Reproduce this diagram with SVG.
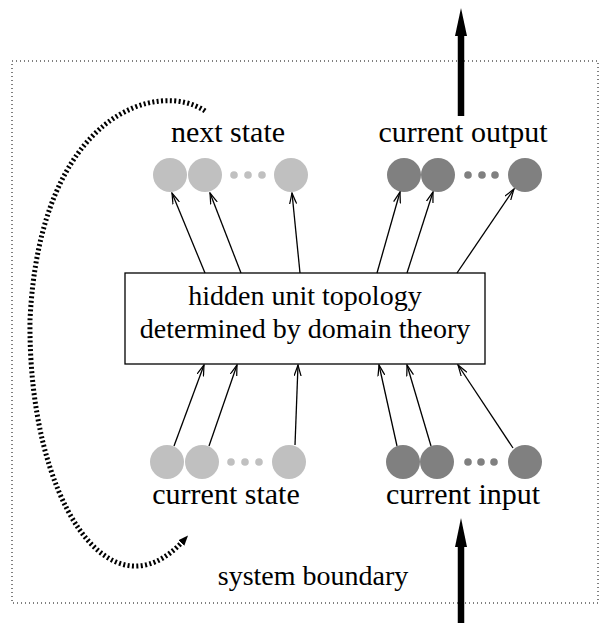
<svg xmlns="http://www.w3.org/2000/svg" width="611" height="623" viewBox="0 0 611 623">
<style>
text{font-family:"Liberation Serif","Times New Roman",serif;font-size:28px;fill:#000;text-anchor:middle}
.lb{font-size:30px}
.lt{fill:#c0c0c0}
.dk{fill:#808080}
.ln{stroke:#000;stroke-width:1.3;fill:none;marker-end:url(#ah)}
</style>
<defs>
<marker id="ah" viewBox="0 0 12 8" refX="11" refY="4" markerWidth="12" markerHeight="8" markerUnits="userSpaceOnUse" orient="auto">
<path d="M0,0.5 L11,4 L0,7.5 M2,1.2 L11,4 L2,6.8" fill="none" stroke="#000" stroke-width="1.2"/>
</marker>
<marker id="ch" viewBox="0 0 10 10" refX="4" refY="5" markerWidth="10" markerHeight="10" markerUnits="userSpaceOnUse" orient="auto">
<path d="M0,1 L10,5 L0,9 Z" fill="#000"/>
</marker>
</defs>
<rect x="12" y="61" width="586" height="542" fill="none" stroke="#000" stroke-width="1" stroke-dasharray="1 3"/>
<g id="boundary-label"><text x="313" y="585">system boundary</text></g>
<g id="hidden"><rect x="125" y="273" width="360" height="91" fill="#fff" stroke="#000" stroke-width="1.3"/>
<text x="305" y="305">hidden unit topology</text>
<text x="305" y="338">determined by domain theory</text></g>
<g id="next-state">
<circle class="lt" cx="170" cy="175" r="17"/><circle class="lt" cx="205" cy="175" r="17"/>
<circle class="lt" cx="234" cy="175" r="3.8"/><circle class="lt" cx="248" cy="175" r="3.8"/><circle class="lt" cx="262" cy="175" r="3.8"/>
<circle class="lt" cx="291" cy="175" r="17"/>
<text class="lb" x="228" y="142">next state</text></g>
<g id="current-output">
<circle class="dk" cx="404" cy="175" r="17"/><circle class="dk" cx="438" cy="175" r="17"/>
<circle class="dk" cx="468" cy="175" r="3.8"/><circle class="dk" cx="482" cy="175" r="3.8"/><circle class="dk" cx="495" cy="175" r="3.8"/>
<circle class="dk" cx="525" cy="175" r="17"/>
<text class="lb" x="463" y="142">current output</text></g>
<g id="current-state">
<circle class="lt" cx="167" cy="462" r="17"/><circle class="lt" cx="202" cy="462" r="17"/>
<circle class="lt" cx="231" cy="462" r="3.8"/><circle class="lt" cx="245" cy="462" r="3.8"/><circle class="lt" cx="259" cy="462" r="3.8"/>
<circle class="lt" cx="289" cy="462" r="17"/>
<text class="lb" x="226" y="504">current state</text></g>
<g id="current-input">
<circle class="dk" cx="403" cy="462" r="17"/><circle class="dk" cx="437" cy="462" r="17"/>
<circle class="dk" cx="468" cy="462" r="3.8"/><circle class="dk" cx="481" cy="462" r="3.8"/><circle class="dk" cx="494" cy="462" r="3.8"/>
<circle class="dk" cx="525" cy="462" r="17"/>
<text class="lb" x="463" y="504">current input</text></g>
<g id="connectors">
<line class="ln" x1="205" y1="273" x2="172" y2="193"/>
<line class="ln" x1="241" y1="273" x2="210" y2="193"/>
<line class="ln" x1="300" y1="273" x2="292" y2="193"/>
<line class="ln" x1="377" y1="273" x2="400" y2="192"/>
<line class="ln" x1="407" y1="273" x2="433" y2="192"/>
<line class="ln" x1="457" y1="273" x2="514" y2="189"/>
<line class="ln" x1="174" y1="446" x2="204" y2="365"/>
<line class="ln" x1="209" y1="446" x2="237" y2="365"/>
<line class="ln" x1="295" y1="445" x2="298" y2="365"/>
<line class="ln" x1="397" y1="446" x2="379" y2="365"/>
<line class="ln" x1="431" y1="446" x2="407" y2="365"/>
<line class="ln" x1="513" y1="448" x2="458" y2="365"/>
<path d="M205,111 C160,80 40,110 30,320 C28,500 110,622 184,540" fill="none" stroke="#000" stroke-width="5" stroke-dasharray="2 2.4" marker-end="url(#ch)"/>
<line x1="461" y1="116" x2="461" y2="34" stroke="#000" stroke-width="6.5"/>
<path d="M461,8 L467,36 L455,36 Z" fill="#000"/>
<line x1="461" y1="623" x2="461" y2="545" stroke="#000" stroke-width="6.5"/>
<path d="M461,518 L467,547 L455,547 Z" fill="#000"/>
</g>
</svg>
